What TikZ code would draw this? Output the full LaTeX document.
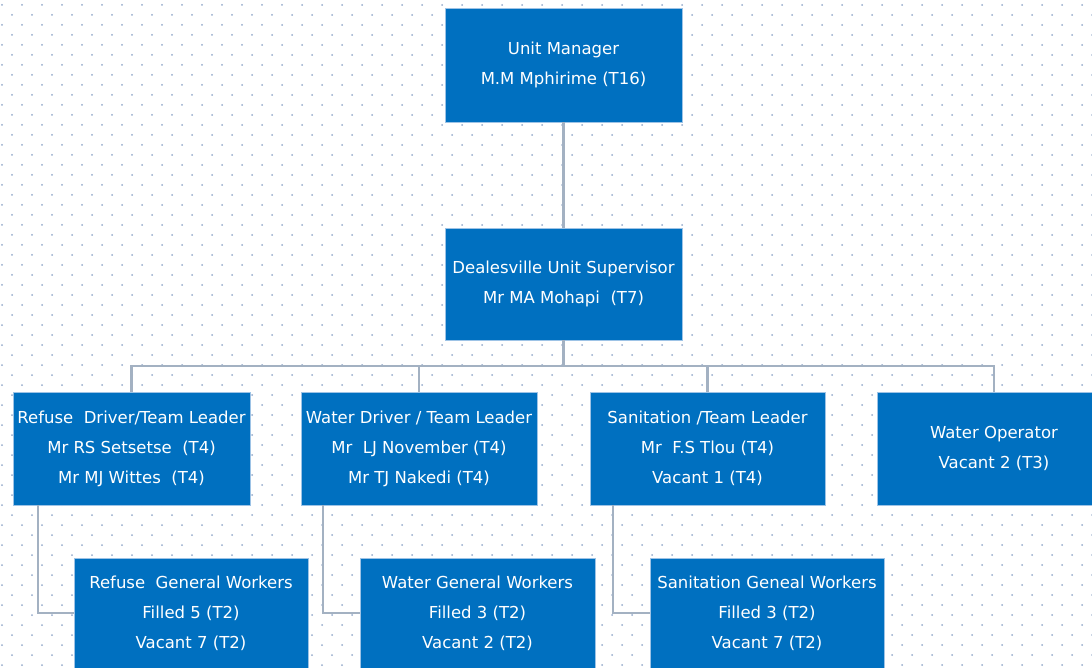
\documentclass[tikz,border=0pt]{standalone}
\usepackage{fontspec}
\setmainfont{DejaVu Sans}
\usetikzlibrary{calc}
\definecolor{boxblue}{HTML}{0070C0}
\definecolor{boxedge}{HTML}{9DC3E6}
\definecolor{linegrey}{HTML}{A3B1C2}
\definecolor{dotcol}{HTML}{94AACB}
\tikzset{
  orgbox/.style={rectangle, fill=boxblue, draw=boxedge, line width=0.6pt,
    minimum width=#1, text=white, align=center, inner sep=0pt,
    font=\fontsize{16.5}{30}\selectfont},
  orgbox/.default=237,
  conn/.style={draw=linegrey, line width=2.2pt}
}
\begin{document}
\begin{tikzpicture}[x=1pt,y=-1pt]
\useasboundingbox (0,0) rectangle (1092,668);
\clip (0,0) rectangle (1092,668);
\fill[white] (0,0) rectangle (1092,668);
% dotted background
\foreach \j in {0,...,66}{
  \pgfmathsetmacro{\off}{mod(\j,2)==0 ? 2 : 12}
  \foreach \i in {0,...,54}{
    \fill[dotcol] (\off+20*\i, 5+10*\j) circle (1.0);
  }
}
% nodes
\node[orgbox, minimum height=114] (um) at (563.5,65) {Unit Manager\\M.M Mphirime (T16)};
\node[orgbox, minimum height=112] (sup) at (563.5,284) {Dealesville Unit Supervisor\\Mr MA Mohapi\ \ (T7)};
\node[orgbox, minimum height=113] (rd) at (131.5,448.5) {Refuse\ \ Driver/Team Leader\\Mr RS Setsetse\ \ (T4)\\Mr MJ Wittes\ \ (T4)};
\node[orgbox=236, minimum height=113] (wd) at (419,448.5) {Water Driver / Team Leader\\Mr\ \ LJ November (T4)\\Mr TJ Nakedi (T4)};
\node[orgbox=235, minimum height=113] (sd) at (707.5,448.5) {Sanitation /Team Leader\\Mr\ \ F.S Tlou (T4)\\Vacant 1 (T4)};
\node[orgbox=234, minimum height=113] (wo) at (994,448.5) {Water Operator\\Vacant 2 (T3)};
\node[orgbox=234, minimum height=110] (rg) at (191,613) {Refuse\ \ General Workers\\Filled 5 (T2)\\Vacant 7 (T2)};
\node[orgbox=235, minimum height=110] (wg) at (477.5,613) {Water General Workers\\Filled 3 (T2)\\Vacant 2 (T2)};
\node[orgbox=234, minimum height=110] (sg) at (767,613) {Sanitation Geneal Workers\\Filled 3 (T2)\\Vacant 7 (T2)};
% connectors
\draw[conn] (um.south) -- (sup.north);
\coordinate (bus) at ($(sup.south)+(0,26)$);
\draw[conn] (sup.south) -- (bus);
\draw[conn] (bus) -| (rd.north);
\draw[conn] (bus) -| (wd.north);
\draw[conn] (bus) -| (sd.north);
\draw[conn] (bus) -| (wo.north);
\coordinate (rdl) at ($(rd.south west)+(25,0)$);
\coordinate (wdl) at ($(wd.south west)+(22,0)$);
\coordinate (sdl) at ($(sd.south west)+(23,0)$);
\draw[conn] (rdl) |- (rg.west);
\draw[conn] (wdl) |- (wg.west);
\draw[conn] (sdl) |- (sg.west);
\end{tikzpicture}
\end{document}
